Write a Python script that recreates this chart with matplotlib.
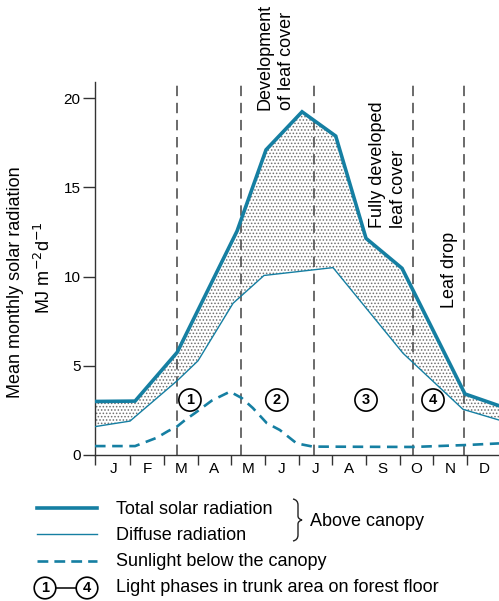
import matplotlib
matplotlib.use('Agg')
import matplotlib.pyplot as plt
from matplotlib.lines import Line2D
from matplotlib.path import Path
from matplotlib.patches import PathPatch, Polygon

plt.rcParams['font.family'] = ['Liberation Sans', 'DejaVu Sans']
plt.rcParams['hatch.linewidth'] = 0.7

# ---- data (x in months from start of January, y in MJ m-2 d-1) ----
months = ['J', 'F', 'M', 'A', 'M', 'J', 'J', 'A', 'S', 'O', 'N', 'D']
total_x = [-0.05, 1.14, 2.39, 4.17, 5.03, 6.10, 7.10, 8.00, 9.07, 10.94, 11.95]
total_y = [3.00, 3.02, 5.75, 12.55, 17.10, 19.23, 17.87, 12.14, 10.46, 3.42, 2.76]
diffuse_x = [-0.05, 0.99, 2.39, 3.01, 4.05, 4.97, 7.02, 9.10, 10.88, 11.95]
diffuse_y = [1.59, 1.90, 4.16, 5.28, 8.50, 10.06, 10.50, 5.70, 2.56, 1.96]
sun_x = [-0.05, 1.14, 1.79, 2.12, 2.39, 2.62, 2.92, 3.42, 3.96, 4.31, 4.64,
         5.05, 5.44, 5.94, 6.42, 9.39, 10.99, 11.95]
sun_y = [0.50, 0.50, 0.97, 1.34, 1.60, 1.95, 2.35, 3.05, 3.55, 3.19, 2.63,
         1.79, 1.40, 0.65, 0.47, 0.45, 0.56, 0.65]
phase_bounds = [2.39, 4.29, 6.45, 9.39, 10.91]
phase_labels = ['1', '2', '3', '4']
phase_label_x = [2.77, 5.35, 8.00, 9.99]
phase_label_y = 3.08
y_ticks = [0, 5, 10, 15, 20]
stage_texts = ['Development\nof leaf cover', 'Fully developed\nleaf cover', 'Leaf drop']
legend_texts = ['Total solar radiation', 'Diffuse radiation',
                'Sunlight below the canopy', 'Light phases in trunk area on forest floor']
group_text = 'Above canopy'

BLUE = '#157fa2'
W, H = 499, 601
FS = 13

fig = plt.figure(figsize=(W / 100, H / 100), dpi=100)
ax = fig.add_axes([95 / W, 1 - 455 / H, 404 / W, 373 / H])
ax.set_xlim(-0.05, 11.95)
ax.set_ylim(0, 20.9)

# stippled area between total and diffuse
poly = list(zip(total_x, total_y)) + list(zip(diffuse_x[::-1], diffuse_y[::-1]))
ax.add_patch(Polygon(poly, closed=True, facecolor='white', edgecolor='#707070',
                     hatch='.....', linewidth=0, zorder=1))

for xb in phase_bounds:
    ax.axvline(xb, ymin=0, ymax=(20.9 - 0.05) / 20.9, color='#4a4a4a', lw=1.15,
               linestyle=(0, (6.5, 4.2)), zorder=2)

ax.plot(total_x, total_y, color=BLUE, lw=2.6, solid_joinstyle='miter', zorder=4)
ax.plot(diffuse_x, diffuse_y, color=BLUE, lw=1.0, zorder=4)
ax.plot(sun_x, sun_y, color=BLUE, lw=1.9, linestyle=(0, (4, 2.5)), zorder=4)

for lab, xx in zip(phase_labels, phase_label_x):
    ax.text(xx, phase_label_y, lab, ha='center', va='center', fontsize=10.5,
            fontweight='bold', zorder=5,
            bbox=dict(boxstyle='circle,pad=0.28', fc='white', ec='black', lw=1.2))

# axes styling
for s in ['top', 'right']:
    ax.spines[s].set_visible(False)
for s in ['left', 'bottom']:
    ax.spines[s].set_linewidth(1.0)
    ax.spines[s].set_color('#333333')
ax.set_yticks(y_ticks)
ax.set_yticklabels([str(v) for v in y_ticks], fontsize=11)
ax.tick_params(axis='y', length=8.5, width=1.0, pad=2, color='#333333')
ax.set_xticks([-0.05] + list(range(1, 12)))
ax.set_xticklabels([''] * 12)
ax.tick_params(axis='x', which='major', length=7.5, width=1.0, color='#333333')
ax.set_xticks([k + 0.5 for k in range(12)], minor=True)
ax.set_xticklabels(months, minor=True, fontsize=11)
ax.tick_params(axis='x', which='minor', length=0, pad=5)

# y label (two lines)
fig.text(16 / W, 1 - 282 / H, 'Mean monthly solar radiation', rotation=90,
         ha='center', va='center', fontsize=FS)
fig.text(44 / W, 1 - 268 / H, r'MJ m$^{-2}$d$^{-1}$', rotation=90,
         ha='center', va='center', fontsize=FS)

# stage annotations
fig.text(276 / W, 1 - 110 / H, stage_texts[0], rotation=90, ha='center', va='bottom',
         multialignment='left', fontsize=FS, linespacing=1.35)
fig.text(388 / W, 1 - 228 / H, stage_texts[1], rotation=90, ha='center', va='bottom',
         multialignment='left', fontsize=FS, linespacing=1.35)
fig.text(450 / W, 1 - 308 / H, stage_texts[2], rotation=90, ha='center', va='bottom',
         fontsize=FS)

# legend
def fx(x):
    return x / W

def fy(y):
    return 1 - y / H

fig.add_artist(Line2D([fx(37), fx(97)], [fy(508)] * 2, color=BLUE, lw=2.6))
fig.add_artist(Line2D([fx(37), fx(97)], [fy(534)] * 2, color=BLUE, lw=1.0))
fig.add_artist(Line2D([fx(37), fx(97)], [fy(561)] * 2, color=BLUE, lw=1.9,
                      linestyle=(0, (4.1, 2.3))))
for yy, t in zip([509, 535, 561, 587], legend_texts):
    fig.text(fx(116), fy(yy), t, ha='left', va='center', fontsize=FS)

fig.text(fx(45), fy(588), phase_labels[0], ha='center', va='center', fontsize=10.5,
         fontweight='bold',
         bbox=dict(boxstyle='circle,pad=0.26', fc='white', ec='black', lw=1.2))
fig.text(fx(87), fy(588), phase_labels[-1], ha='center', va='center', fontsize=10.5,
         fontweight='bold',
         bbox=dict(boxstyle='circle,pad=0.26', fc='white', ec='black', lw=1.2))
fig.add_artist(Line2D([fx(56), fx(76)], [fy(588)] * 2, color='black', lw=1.1))

# brace
bx = [293, 298, 298, 298, 298, 302, 298, 298, 298, 298, 293]
by = [499, 500, 505, 516, 519, 520, 521, 524, 535, 540, 541]
verts = [(fx(a), fy(b)) for a, b in zip(bx, by)]
codes = [Path.MOVETO, Path.CURVE3, Path.CURVE3, Path.LINETO, Path.CURVE3, Path.CURVE3,
         Path.CURVE3, Path.CURVE3, Path.LINETO, Path.CURVE3, Path.CURVE3]
fig.add_artist(PathPatch(Path(verts, codes), fill=False, edgecolor='#222222', lw=1.0,
                         transform=fig.transFigure))
fig.text(fx(310), fy(522), group_text, ha='left', va='center', fontsize=FS)

fig.savefig('out.png', dpi=100)
